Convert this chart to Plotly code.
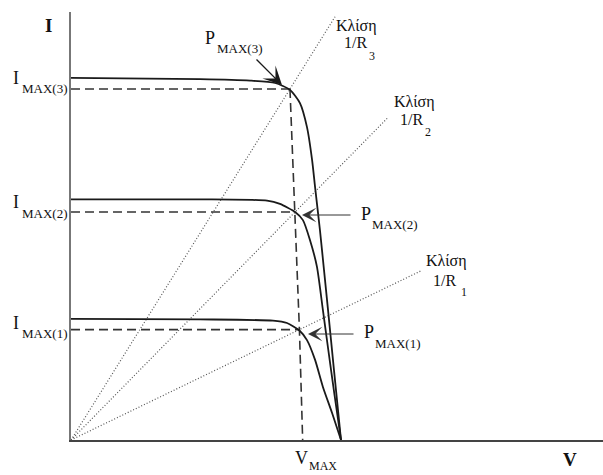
import plotly.graph_objects as go

# ---- data (V in arbitrary volts, I in arbitrary amps) ----
V3 = [0, 4.78, 6.63, 7.56, 8.11, 8.48, 8.74, 8.93, 9.04, 9.22, 9.37, 9.52, 9.74, 10]
I3 = [12.07, 12.03, 11.98, 11.9, 11.67, 11.23, 10.43, 9.33, 8.43, 7.0, 5.67, 4.33, 2.33, 0]

V2 = [0, 4.78, 7.26, 7.74, 8.30, 8.59, 8.85, 9.11, 9.33, 9.53, 9.76, 10]
I2 = [8.02, 8.02, 7.98, 7.87, 7.6, 7.33, 6.67, 5.77, 4.33, 3.0, 1.5, 0]

V1 = [0, 4.78, 7.48, 8.0, 8.46, 8.74, 9.04, 9.33, 9.67, 10]
I1 = [4.04, 4.02, 3.98, 3.9, 3.65, 3.33, 2.67, 1.77, 0.9, 0]

# maximum power points (V, I) for curves 1..3
VMP = [8.46, 8.30, 8.11]
IMP = [3.68, 7.6, 11.7]
VMAX_AXIS = 8.58          # where the V_MAX dashed line meets the V axis
# far ends of the load lines (slope 1/R)
LOAD_END_V = [12.96, 11.74, 9.78]

I_LABELS = ["I", "I", "I"]
I_SUBS = ["MAX(1)", "MAX(2)", "MAX(3)"]
P_SUBS = ["MAX(1)", "MAX(2)", "MAX(3)"]
R_SUBS = ["1", "2", "3"]

# ---- geometry / style ----
FONT = "Liberation Serif, DejaVu Serif, serif"
TXT = "#111"
X0, Y0 = 71, 440      # pixel of origin
SX, SY = 27.0, 30.0   # pixels per data unit
W, H = 603, 475
L, R, T, B = 71, 0, 12, 35
PW, PH = W - L - R, H - T - B


def d(px, py):
    return (px - X0) / SX, (Y0 - py) / SY


def p(px, py):
    return (px - L) / PW, (H - B - py) / PH


fig = go.Figure()

# load lines (dotted)
for vmp, imp, vend in zip(VMP, IMP, LOAD_END_V):
    slope = imp / vmp
    fig.add_trace(go.Scatter(x=[0, vend], y=[0, slope * vend], mode="lines",
                             line=dict(color="#555", width=1.2, dash="1px,2px"),
                             hoverinfo="skip", showlegend=False))

# horizontal dashed lines to I_MAX
for vmp, imp in zip(VMP, IMP):
    fig.add_trace(go.Scatter(x=[0, vmp], y=[imp, imp], mode="lines",
                             line=dict(color="#333", width=1.6, dash="9px,5px"),
                             hoverinfo="skip", showlegend=False))

# V_MAX dashed line through the MPPs
fig.add_trace(go.Scatter(x=[VMP[2], VMP[1], VMP[0], VMAX_AXIS],
                         y=[IMP[2], IMP[1], IMP[0], 0], mode="lines",
                         line=dict(color="#333", width=1.6, dash="9px,5px"),
                         hoverinfo="skip", showlegend=False))

# I-V curves
for vv, ii in [(V1, I1), (V2, I2), (V3, I3)]:
    fig.add_trace(go.Scatter(x=vv, y=ii, mode="lines",
                             line=dict(color="#1a1a1a", width=1.8, shape="spline", smoothing=0.6),
                             hoverinfo="skip", showlegend=False))


def ann(text, px, py, size, xanchor="center", bold=False):
    x, y = p(px, py)
    if bold:
        text = "<b>" + text + "</b>"
    fig.add_annotation(x=x, y=y, xref="paper", yref="paper", text=text, showarrow=False,
                       xanchor=xanchor, yanchor="middle",
                       font=dict(family=FONT, size=size, color=TXT))


# axis names
ann("I", 48, 25, 19, bold=True)
ann("V", 570, 460, 19, bold=True)

# I_MAX labels
for lab, sub, yc, ys in zip(I_LABELS, I_SUBS, [322.5, 202.5, 77.5], [333, 213, 88.5]):
    ann(lab, 16, yc, 18)
    ann(sub, 20, ys, 13, xanchor="left")

# V_MAX label
ann("V", 301, 458, 18)
ann("MAX", 307, 466, 12, xanchor="left")

# P_MAX labels
for sub, (pxp, pyp), (pxs, pys) in zip(P_SUBS,
                                       [(369, 332), (366, 214), (210, 37.5)],
                                       [(373, 343), (370, 224), (215, 48)]):
    ann("P", pxp, pyp, 18)
    ann(sub, pxs, pys, 13, xanchor="left")

# slope labels
for sub, (kx, ky), (rx, ry), (sx, sy) in zip(R_SUBS,
                                             [(446.5, 261), (414, 102), (356, 26)],
                                             [(444, 280), (411, 119), (355, 43)],
                                             [(459, 292), (423, 132), (367, 56)]):
    ann("Κλίση", kx, ky, 16)
    ann("1/R", rx, ry, 16)
    ann(sub, sx, sy, 12, xanchor="left")


# arrows
def arrow(tip, tail, width, size, color):
    x, y = d(*tip)
    fig.add_annotation(x=x, y=y, ax=tail[0] - tip[0], ay=tail[1] - tip[1], text="",
                       showarrow=True, arrowhead=3, arrowsize=size, arrowwidth=width,
                       arrowcolor=color, standoff=0)


arrow((282, 85), (255, 58), 1.4, 2.2, "#1a1a1a")
arrow((302, 215), (352, 215), 1.0, 2.4, "#333")
arrow((308, 334), (355, 334), 1.0, 2.4, "#333")

fig.update_layout(
    width=W, height=H, margin=dict(l=L, r=R, t=T, b=B),
    paper_bgcolor="white", plot_bgcolor="white",
    xaxis=dict(range=[0, PW / SX], showgrid=False, zeroline=False,
               showticklabels=False, ticks="", showline=True, linecolor="#444",
               linewidth=1.5, fixedrange=True),
    yaxis=dict(range=[0, PH / SY], showgrid=False, zeroline=False,
               showticklabels=False, ticks="", showline=True, linecolor="#777",
               linewidth=1.5, fixedrange=True),
    showlegend=False,
)

fig.write_html("out.html", config={"displayModeBar": False})
